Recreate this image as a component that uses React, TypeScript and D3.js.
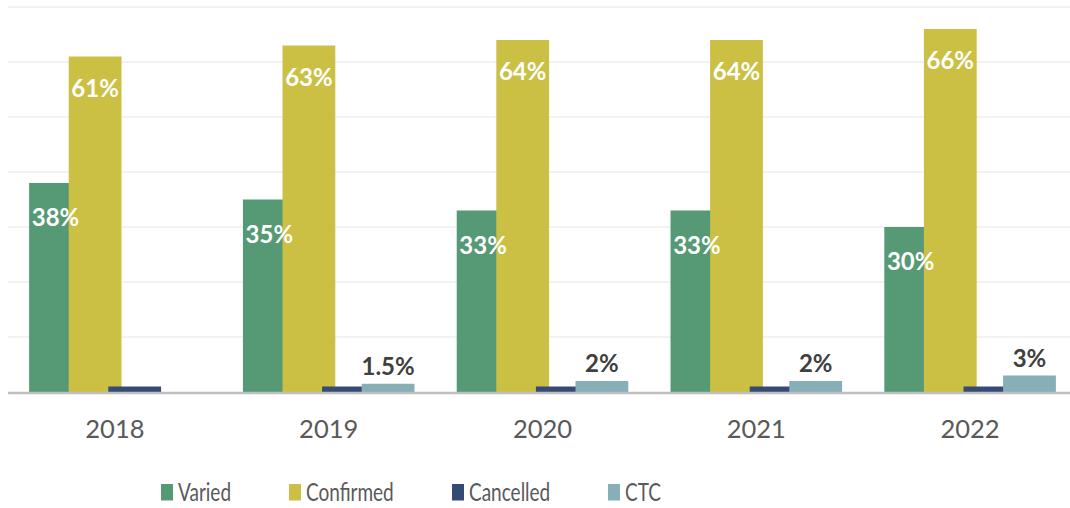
import React from "react";
import { scaleBand, scaleLinear } from "d3";

const years = ["2018", "2019", "2020", "2021", "2022"];
const seriesNames = ["Varied", "Confirmed", "Cancelled", "CTC"];
const varied = [38, 35, 33, 33, 30];
const confirmed = [61, 63, 64, 64, 66];
const cancelled = [1, 1, 1, 1, 1];
const ctc = [0, 1.5, 2, 2, 3];
const variedLabels = ["38%", "35%", "33%", "33%", "30%"];
const confirmedLabels = ["61%", "63%", "64%", "64%", "66%"];
const ctcLabels = ["", "1.5%", "2%", "2%", "3%"];
const yTicks = [0, 10, 20, 30, 40, 50, 60, 70];

const colors = ["#559975", "#CBC044", "#374A76", "#86AFB8"];

export default function App() {
  const width = 1070;
  const height = 508;
  const font = "Lato, 'Open Sans', sans-serif";

  const x0 = scaleBand().domain(years).range([8, 1077]).paddingInner(0).paddingOuter(0);
  const y = scaleLinear().domain([0, 70]).range([392, 7]);

  // excel-like layout: gap width 80%, overlap 25%
  const band = x0.bandwidth();
  const barW = band / 4.05;
  const barStep = barW * 0.75;
  const groupW = barW * 3.25;

  const series = [
    { name: seriesNames[0], values: varied, labels: variedLabels, inside: true, offset: 43 },
    { name: seriesNames[1], values: confirmed, labels: confirmedLabels, inside: true, offset: 40 },
    { name: seriesNames[2], values: cancelled, labels: years.map(() => ""), inside: false, offset: 0 },
    { name: seriesNames[3], values: ctc, labels: ctcLabels, inside: false, offset: -9 },
  ];

  const barX = (yi: number, si: number) =>
    (x0(years[yi]) as number) + (band - groupW) / 2 + si * barStep;

  const legendX = [161, 289, 452, 608];

  return (
    <svg
      width={width}
      height={height}
      style={{ position: "fixed", left: 0, top: 0, background: "#fff" }}
    >
      {yTicks.slice(1).map((t) => (
        <line key={t} x1={8} x2={width} y1={y(t)} y2={y(t)} stroke="#EEEEEE" strokeWidth={1.5} />
      ))}

      {series.map((s, si) =>
        s.values.map((v, yi) => (
          <rect
            key={`${si}-${yi}`}
            x={barX(yi, si)}
            y={y(v)}
            width={barW}
            height={y(0) - y(v)}
            fill={colors[si]}
          />
        ))
      )}

      <line x1={8} x2={width} y1={393} y2={393} stroke="#BFBFBF" strokeWidth={2.5} />

      {series.map((s, si) =>
        s.labels.map((lab, yi) =>
          lab ? (
            <text
              key={`l${si}-${yi}`}
              x={barX(yi, si) + barW / 2}
              y={y(s.values[yi]) + s.offset}
              textAnchor="middle"
              fontFamily={font}
              fontWeight="bold"
              fontSize={24}
              fill={s.inside ? "#FFFFFF" : "#404040"}
            >
              {lab}
            </text>
          ) : null
        )
      )}

      {years.map((yr) => (
        <text
          key={yr}
          x={(x0(yr) as number) + band / 2}
          y={438}
          textAnchor="middle"
          fontFamily={font}
          fontSize={25.5}
          fill="#595959"
        >
          {yr}
        </text>
      ))}

      {seriesNames.map((n, i) => (
        <g key={n} transform={`translate(${legendX[i]},0)`}>
          <rect x={0} y={484} width={12} height={16.5} fill={colors[i]} />
          <text
            transform="translate(17,500.5) scale(0.76,1)"
            fontFamily={font}
            fontSize={25}
            fill="#595959"
          >
            {n}
          </text>
        </g>
      ))}
    </svg>
  );
}
